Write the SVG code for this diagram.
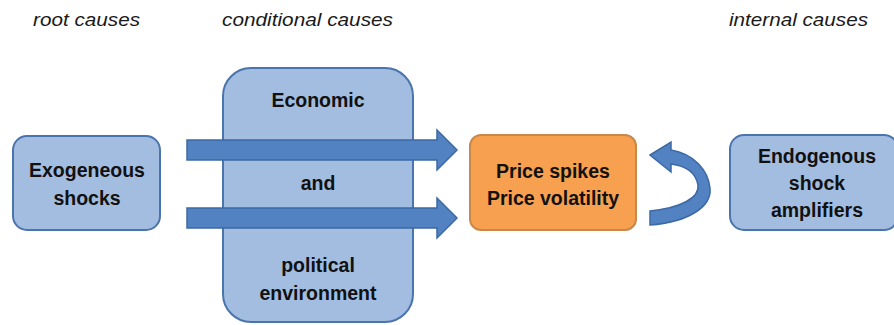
<svg xmlns="http://www.w3.org/2000/svg" width="894" height="325" viewBox="0 0 894 325">
  <style>
    .heading { font-family: "Liberation Sans", Arial, sans-serif; font-style: italic; font-size: 19px; fill: #1a1a1a; }
    .box { fill: #a3bde0; stroke: #4a74ad; stroke-width: 2; }
    .hot { fill: #f7a050; stroke: #c9884a; stroke-width: 2; }
    .label { font-family: "Liberation Sans", Arial, sans-serif; font-weight: bold; font-size: 19.5px; fill: #111; text-anchor: middle; }
    .arrow { fill: #5282c2; stroke: #3d69a4; stroke-width: 1.5; }
  </style>

  <rect width="894" height="325" fill="#ffffff"/>

  <!-- column headings -->
  <text class="heading" x="33" y="26" textLength="107" lengthAdjust="spacingAndGlyphs">root causes</text>
  <text class="heading" x="222" y="26" textLength="171" lengthAdjust="spacingAndGlyphs">conditional causes</text>
  <text class="heading" x="729" y="26" textLength="139" lengthAdjust="spacingAndGlyphs">internal causes</text>

  <g id="exogeneous-shocks">
    <rect class="box" x="13" y="136" width="147" height="94" rx="14"/>
    <text class="label" x="87" y="177">Exogeneous</text>
    <text class="label" x="87" y="205">shocks</text>
  </g>

  <g id="environment">
    <rect class="box" x="223" y="68" width="190" height="254" rx="28"/>
    <text class="label" x="318" y="107">Economic</text>
    <text class="label" x="318" y="190">and</text>
    <text class="label" x="318" y="272">political</text>
    <text class="label" x="318" y="300">environment</text>
  </g>

  <g id="price">
    <rect class="hot" x="470" y="135" width="166" height="95" rx="11"/>
    <text class="label" x="553" y="178">Price spikes</text>
    <text class="label" x="553" y="205">Price volatility</text>
  </g>

  <g id="endogenous-amplifiers">
    <rect class="box" x="730" y="135" width="168" height="95" rx="14"/>
    <text class="label" x="817" y="163">Endogenous</text>
    <text class="label" x="817" y="190">shock</text>
    <text class="label" x="817" y="217">amplifiers</text>
  </g>

  <g id="connectors">
    <!-- straight block arrows through the environment box -->
    <path class="arrow" d="M187,140 H437 V130 L457,150 L437,170 V160 H187 Z"/>
    <path class="arrow" d="M187,208 H437 V198 L457,218 L437,238 V228 H187 Z"/>
    <!-- curved feedback arrow back into the price box -->
    <path class="arrow" d="M650,155 L671,142 L671,150 C694,154 708,170 710,188 C712,207 688,222 650,225 L650,211 C680,208 700,198 698,185 C696,174 688,166 671,164 L671,172 Z"/>
  </g>
</svg>
